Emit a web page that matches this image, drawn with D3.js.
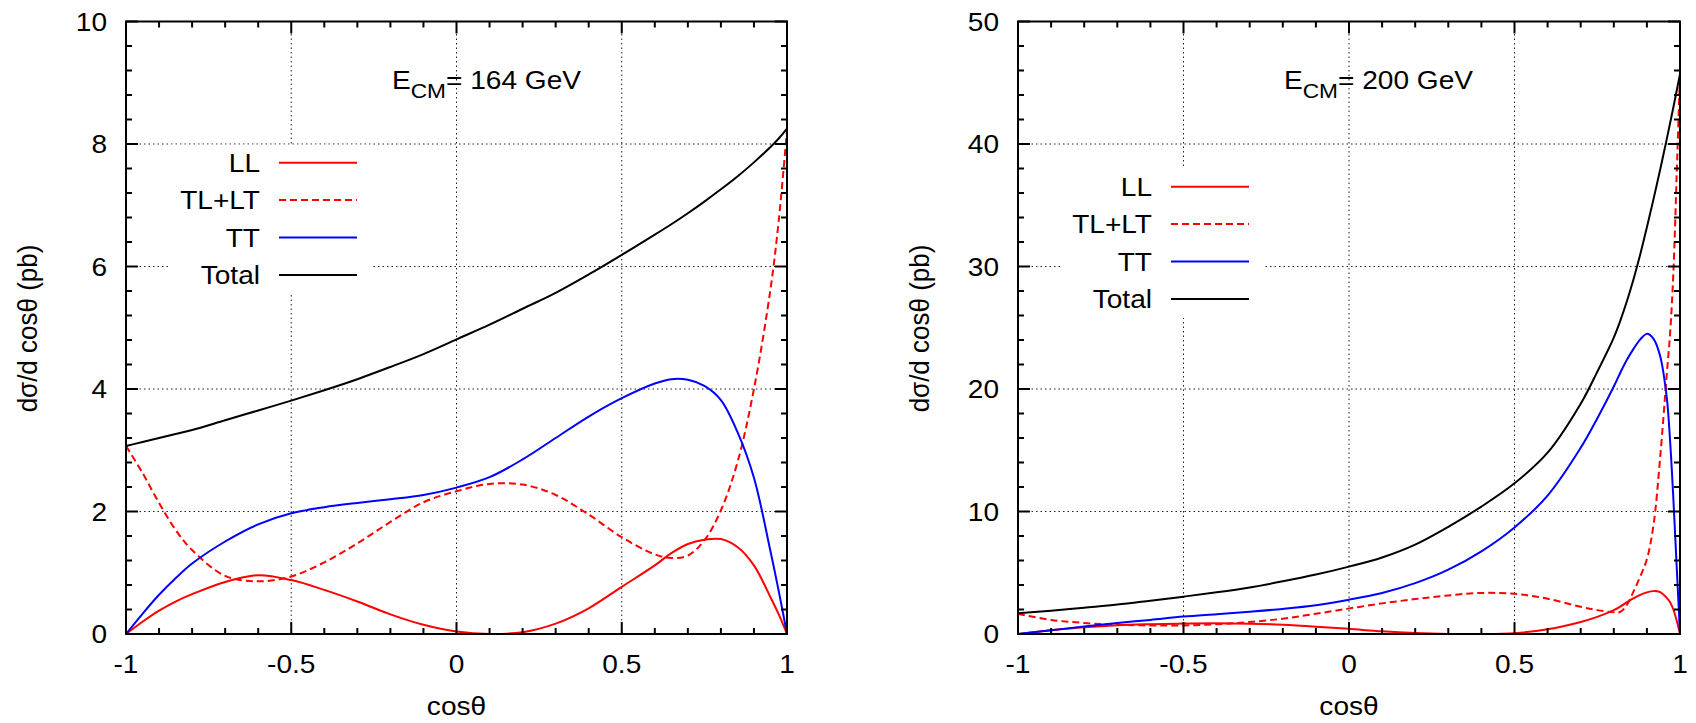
<!DOCTYPE html>
<html>
<head>
<meta charset="utf-8">
<script src="https://cdn.jsdelivr.net/npm/d3@7"></script>
<style>
  body { margin: 0; background: #fff; }
  text { font-family: "Liberation Sans", Arial, Helvetica, sans-serif; font-size: 26px; fill: #000; }
</style>
</head>
<body>
<svg id="fig" width="1696" height="723"></svg>
<script>
// E_CM = 164 GeV
const cos164 = [-1, -0.95, -0.9, -0.85, -0.8, -0.7, -0.6, -0.5, -0.4, -0.3, -0.2, -0.1, 0, 0.1, 0.2, 0.3, 0.4, 0.5, 0.6, 0.65, 0.7, 0.75, 0.8, 0.85, 0.9, 0.95, 0.975, 1];
const ll164 = [0, 0.2, 0.38, 0.53, 0.65, 0.85, 0.96, 0.88, 0.72, 0.53, 0.32, 0.15, 0.04, 0, 0.03, 0.17, 0.42, 0.77, 1.12, 1.32, 1.47, 1.54, 1.55, 1.42, 1.12, 0.6, 0.32, 0];
const tl164 = [3.07, 2.63, 2.14, 1.7, 1.37, 0.95, 0.86, 0.94, 1.17, 1.48, 1.83, 2.15, 2.33, 2.45, 2.44, 2.27, 1.95, 1.58, 1.3, 1.24, 1.28, 1.53, 2.02, 2.8, 4.0, 5.63, 6.75, 8.23];
const tt164 = [0, 0.33, 0.64, 0.91, 1.15, 1.51, 1.79, 1.97, 2.07, 2.14, 2.2, 2.27, 2.39, 2.56, 2.85, 3.2, 3.55, 3.85, 4.09, 4.16, 4.15, 4.05, 3.82, 3.3, 2.55, 1.35, 0.7, 0];
const tot164 = [3.07, 3.135, 3.2, 3.265, 3.33, 3.49, 3.65, 3.81, 3.98, 4.16, 4.36, 4.57, 4.81, 5.05, 5.31, 5.57, 5.87, 6.19, 6.52, 6.69, 6.87, 7.06, 7.26, 7.47, 7.7, 7.95, 8.09, 8.25];

// E_CM = 200 GeV
const cos200 = [-1, -0.9, -0.8, -0.7, -0.6, -0.5, -0.4, -0.3, -0.2, -0.1, 0, 0.1, 0.2, 0.3, 0.4, 0.5, 0.6, 0.7, 0.75, 0.8, 0.82, 0.84, 0.86, 0.88, 0.9, 0.92, 0.94, 0.96, 0.97, 0.98, 0.99, 1];
const ll200 = [0, 0.3, 0.55, 0.72, 0.8, 0.85, 0.87, 0.84, 0.75, 0.6, 0.42, 0.22, 0.08, 0.01, 0, 0.07, 0.38, 0.98, 1.4, 1.95, 2.25, 2.6, 2.92, 3.2, 3.4, 3.5, 3.42, 2.95, 2.6, 2.0, 1.1, 0];
const tl200 = [1.64, 1.15, 0.9, 0.75, 0.7, 0.7, 0.8, 0.98, 1.25, 1.65, 2.08, 2.5, 2.85, 3.15, 3.35, 3.28, 2.88, 2.22, 1.95, 1.78, 1.8, 2.4, 3.5, 4.7, 6.1, 8.9, 14.4, 21.2, 24.5, 29.5, 37.5, 45.7];
const tt200 = [0, 0.3, 0.62, 0.9, 1.15, 1.42, 1.62, 1.82, 2.05, 2.35, 2.8, 3.35, 4.15, 5.25, 6.75, 8.7, 11.3, 15.2, 17.6, 20.2, 21.35, 22.4, 23.3, 24.05, 24.5, 24.1, 22.7, 19.3, 15.8, 11.0, 5.5, 0];
const tot200 = [1.7, 1.9, 2.15, 2.4, 2.72, 3.05, 3.4, 3.8, 4.3, 4.85, 5.5, 6.25, 7.3, 8.75, 10.4, 12.3, 14.8, 18.8, 21.4, 24.2, 25.6, 27.2, 29.0, 31.0, 33.2, 35.5, 37.9, 40.4, 41.7, 43.0, 44.35, 45.7];

const xTicks = [-1, -0.5, 0, 0.5, 1];
const yTicks164 = [0, 2, 4, 6, 8, 10];
const yTicks200 = [0, 10, 20, 30, 40, 50];
const legendNames = ["LL", "TL+LT", "TT", "Total"];

const svg = d3.select("#fig");
const SX = 1.08; // the picture is a little wider than tall per glyph

function htext(g, x, y, s, anchor) {
  return g.append("text")
    .attr("transform", `translate(${x},${y}) scale(${SX},1)`)
    .attr("text-anchor", anchor)
    .text(s);
}

function panel(opt) {
  const g = svg.append("g");
  const x = d3.scaleLinear().domain([-1, 1]).range([opt.left, opt.right]);
  const y = d3.scaleLinear().domain([0, opt.yMax]).range([634, 21.5]);
  const yMinor = opt.yMax / 25;

  // grid
  g.selectAll(".gx").data(xTicks.slice(1, -1)).enter().append("line")
    .attr("x1", d => x(d)).attr("x2", d => x(d)).attr("y1", y(0)).attr("y2", y(opt.yMax))
    .attr("stroke", "#222").attr("stroke-width", 1).attr("stroke-dasharray", "1.5,3");
  g.selectAll(".gy").data(opt.yTicks.slice(1, -1)).enter().append("line")
    .attr("x1", x(-1)).attr("x2", x(1)).attr("y1", d => y(d)).attr("y2", d => y(d))
    .attr("stroke", "#222").attr("stroke-width", 1).attr("stroke-dasharray", "1.5,3");

  // key, opaque box
  const kx = opt.left, ky = opt.keyTop, step = 37.4;
  g.append("rect").attr("x", kx + 44).attr("y", ky - 18).attr("width", 203).attr("height", step * 3 + 37)
    .attr("fill", "#fff");
  const line = d3.line().x(d => x(d[0])).y(d => y(d[1])).curve(d3.curveCatmullRom.alpha(0.5));
  opt.series.forEach((s, i) => {
    const yy = ky + i * step;
    htext(g, kx + 134, yy + 9, legendNames[i], "end");
    g.append("line").attr("x1", kx + 153).attr("x2", kx + 231).attr("y1", yy).attr("y2", yy)
      .attr("stroke", s.color).attr("stroke-width", 2).attr("stroke-dasharray", s.dash || null);
  });

  // curves
  const clipId = "clip" + opt.yMax;
  g.append("clipPath").attr("id", clipId).append("rect")
    .attr("x", opt.left).attr("y", 21.5).attr("width", opt.right - opt.left).attr("height", 634 - 21.5);
  opt.series.forEach(s => {
    g.append("path").datum(opt.cos.map((c, i) => [c, s.values[i]]))
      .attr("d", line).attr("fill", "none").attr("stroke", s.color).attr("stroke-width", 2)
      .attr("stroke-dasharray", s.dash || null).attr("clip-path", `url(#${clipId})`);
  });

  // ticks, inward on all four sides
  const ticks = g.append("g").attr("stroke", "#000").attr("stroke-width", 2);
  d3.range(0, 21).forEach(i => {
    const v = -1 + i * 0.1, len = i % 5 === 0 ? 12 : 6;
    ticks.append("line").attr("x1", x(v)).attr("x2", x(v)).attr("y1", y(0)).attr("y2", y(0) - len);
    ticks.append("line").attr("x1", x(v)).attr("x2", x(v)).attr("y1", y(opt.yMax)).attr("y2", y(opt.yMax) + len);
  });
  d3.range(0, 26).forEach(i => {
    const v = i * yMinor, len = i % 5 === 0 ? 12 : 6;
    ticks.append("line").attr("x1", x(-1)).attr("x2", x(-1) + len).attr("y1", y(v)).attr("y2", y(v));
    ticks.append("line").attr("x1", x(1)).attr("x2", x(1) - len).attr("y1", y(v)).attr("y2", y(v));
  });

  // frame
  g.append("rect").attr("x", opt.left).attr("y", 21.5).attr("width", opt.right - opt.left).attr("height", 634 - 21.5)
    .attr("fill", "none").attr("stroke", "#000").attr("stroke-width", 2);

  // tick labels
  xTicks.forEach(v => htext(g, x(v), 673, String(v), "middle"));
  opt.yTicks.forEach(v => htext(g, opt.left - 19, y(v) + 9, String(v), "end"));

  // axis titles
  htext(g, (opt.left + opt.right) / 2, 715, "cosθ", "middle");
  g.append("text")
    .attr("transform", `translate(${opt.left - 89},328.5) scale(${SX},1) rotate(-90)`)
    .attr("text-anchor", "middle")
    .text("dσ/d cosθ (pb)");

  // energy label
  const t = g.append("text").attr("transform", `translate(${opt.left + 266},89) scale(${SX},1)`);
  t.append("tspan").text("E");
  t.append("tspan").attr("dy", 9).style("font-size", "21px").text("CM");
  t.append("tspan").attr("dy", -9).text("= " + opt.energy + " GeV");
}

panel({
  left: 126, right: 787, yMax: 10, yTicks: yTicks164, keyTop: 162.7, energy: 164, cos: cos164,
  series: [
    { values: ll164, color: "#ff0000" },
    { values: tl164, color: "#ff0000", dash: "7,4" },
    { values: tt164, color: "#0000ff" },
    { values: tot164, color: "#000000" }
  ]
});

panel({
  left: 1018, right: 1680, yMax: 50, yTicks: yTicks200, keyTop: 186.7, energy: 200, cos: cos200,
  series: [
    { values: ll200, color: "#ff0000" },
    { values: tl200, color: "#ff0000", dash: "7,4" },
    { values: tt200, color: "#0000ff" },
    { values: tot200, color: "#000000" }
  ]
});
</script>
</body>
</html>
